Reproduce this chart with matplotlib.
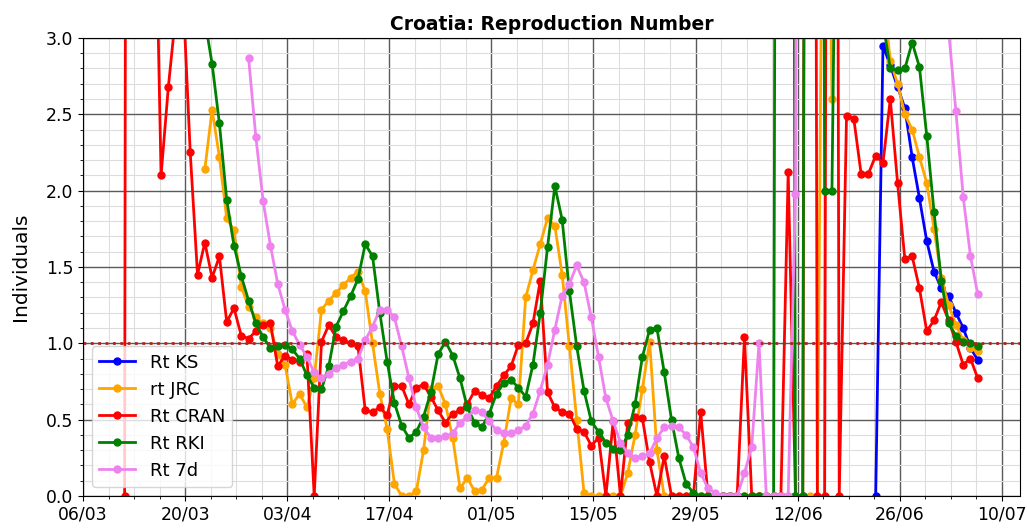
import numpy as np
import pandas as pd
import matplotlib
matplotlib.use("Agg")
import matplotlib.pyplot as plt
import matplotlib.dates as mdates
from matplotlib.ticker import MultipleLocator, FixedLocator

# Reproduction number estimates for Croatia, one value per day up to 2020-07-06
end_date = "2020-07-06"

ks_start = "2020-06-22"
rt_ks = [0.0, 2.95, 2.82, 2.68, 2.54, 2.22, 1.95, 1.67, 1.47, 1.36,
         1.31, 1.20, 1.10, 0.97, 0.89]

jrc_start = "2020-03-22"
rt_jrc = [2.14, 2.53, 2.22, 1.82, 1.74, 1.37, 1.24, 1.17, 1.13, 1.10,
          0.93, 0.86, 0.60, 0.67, 0.58, 0.77, 1.22, 1.28, 1.33, 1.38,
          1.43, 1.47, 1.34, 1.00, 0.67, 0.44, 0.08, 0.0, 0.0, 0.03,
          0.30, 0.70, 0.72, 0.60, 0.38, 0.05, 0.12, 0.03, 0.04, 0.12,
          0.12, 0.35, 0.64, 0.60, 1.30, 1.48, 1.65, 1.82, 1.77, 1.45,
          0.98, 0.50, 0.02, 0.0, 0.0, 0.0, 0.0, 0.0, 0.15, 0.40,
          0.70, 1.01, 0.30, 0.0, 0.0, 0.0, 0.0, 0.0, 0.0, 0.0,
          0.0, 0.0, 0.0, 0.0, 0.0, 0.0, 0.0, 0.0, 0.0, 0.0,
          0.0, 0.0, 0.0, 0.0, 0.0, 6.0, 2.6, 6.0, 5.0, 5.0,
          5.0, 4.0, 4.0, 3.3, 2.85, 2.70, 2.50, 2.40, 2.22, 2.05,
          1.75, 1.43, 1.25, 1.12, 1.02, 0.97, 0.95]

cran_start = "2020-03-11"
rt_cran = [0.0, 30.0, 10.0, 6.0, 4.5, 2.10, 2.68, 3.15, 3.3, 2.25,
           1.45, 1.66, 1.43, 1.57, 1.14, 1.23, 1.05, 1.03, 1.08, 1.12,
           1.13, 0.85, 0.92, 0.89, 0.88, 0.93, 0.0, 1.01, 1.12, 1.04,
           1.02, 1.00, 0.98, 0.56, 0.55, 0.58, 0.53, 0.72, 0.72, 0.60,
           0.71, 0.73, 0.65, 0.56, 0.48, 0.54, 0.56, 0.60, 0.69, 0.66,
           0.64, 0.72, 0.79, 0.85, 0.99, 1.00, 1.13, 1.41, 0.68, 0.58,
           0.55, 0.54, 0.44, 0.42, 0.33, 0.38, 0.0, 0.49, 0.0, 0.48,
           0.52, 0.51, 0.22, 0.0, 0.26, 0.0, 0.0, 0.0, 0.0, 0.55,
           0.0, 0.0, 0.0, 0.0, 0.0, 1.04, 0.0, 0.0, 0.0, 0.0,
           0.0, 2.12, 0.0, 0.0, 20.0, 0.0, 0.0, 20.0, 0.0, 2.49,
           2.47, 2.11, 2.11, 2.23, 2.18, 2.60, 2.05, 1.55, 1.57, 1.36,
           1.08, 1.15, 1.27, 1.15, 1.01, 0.86, 0.90, 0.77]

rki_start = "2020-03-22"
rt_rki = [3.12, 2.83, 2.44, 1.94, 1.64, 1.44, 1.28, 1.13, 1.04, 0.97,
          0.98, 0.99, 0.96, 0.90, 0.79, 0.71, 0.70, 0.85, 1.11, 1.21,
          1.31, 1.42, 1.65, 1.57, 1.20, 0.88, 0.61, 0.46, 0.38, 0.42,
          0.52, 0.68, 0.93, 1.01, 0.92, 0.77, 0.58, 0.48, 0.45, 0.54,
          0.67, 0.74, 0.76, 0.71, 0.65, 0.86, 1.20, 1.63, 2.03, 1.81,
          1.34, 0.98, 0.69, 0.49, 0.42, 0.35, 0.31, 0.30, 0.40, 0.60,
          0.91, 1.09, 1.10, 0.81, 0.50, 0.25, 0.08, 0.02, 0.0, 0.0,
          0.0, 0.0, 0.0, 0.0, 0.0, 0.0, 0.0, 0.0, 0.0, 20.0,
          20.0, 0.0, 0.0, 20.0, 20.0, 2.0, 2.0, 6.0, 8.0, 8.0,
          6.0, 5.0, 4.0, 3.1, 2.80, 2.79, 2.80, 2.97, 2.81, 2.36,
          1.86, 1.41, 1.13, 1.05, 1.01, 1.00, 0.98]

d7_start = "2020-03-28"
rt_7d = [2.87, 2.35, 1.93, 1.64, 1.39, 1.22, 1.08, 0.99, 0.91, 0.81,
         0.77, 0.80, 0.84, 0.86, 0.88, 0.90, 1.02, 1.11, 1.22, 1.22,
         1.17, 0.98, 0.77, 0.58, 0.45, 0.38, 0.38, 0.39, 0.41, 0.48,
         0.52, 0.56, 0.55, 0.49, 0.43, 0.41, 0.41, 0.43, 0.46, 0.54,
         0.69, 0.86, 1.09, 1.31, 1.39, 1.51, 1.40, 1.17, 0.91, 0.64,
         0.49, 0.35, 0.28, 0.25, 0.26, 0.28, 0.38, 0.45, 0.46, 0.45,
         0.40, 0.32, 0.15, 0.05, 0.02, 0.0, 0.0, 0.0, 0.15, 0.32,
         1.00, 0.0, 0.0, 0.0, 0.0, 1.98, 20.0, 14.0, 11.0, 9.5,
         8.0, 7.2, 6.8, 6.1, 5.9, 5.5, 5.2, 4.9, 4.6, 4.4,
         4.2, 4.0, 3.8, 3.7, 3.5, 3.3, 3.05, 2.52, 1.96, 1.57,
         1.32]

labels = ["Rt KS", "rt JRC", "Rt CRAN", "Rt RKI", "Rt 7d"]
starts = [ks_start, jrc_start, cran_start, rki_start, d7_start]
series = [rt_ks, rt_jrc, rt_cran, rt_rki, rt_7d]
colors = ["blue", "orange", "red", "green", "violet"]

# major ticks every two weeks, minor every 3.5 days
tick_dates = pd.date_range("2020-03-06", "2020-07-10", freq="14D")
minor_dates = pd.date_range("2020-03-06", "2020-07-12", freq="84h")

fig = plt.figure(figsize=(10.27, 5.30), dpi=100)
ax = fig.add_axes([0.0808, 0.0642, 0.9124, 0.8642])

for lab, st, vals, col in zip(labels, starts, series, colors):
    dates = pd.date_range(st, end_date, freq="D") + pd.Timedelta(hours=17)
    ax.plot(dates, vals, "-o", color=col, lw=2, ms=5, label=lab)

ax.axhline(1.0, color="#b22222", ls=":", lw=2)

ax.set_ylim(0, 3)
ax.set_xlim(pd.Timestamp("2020-03-06"), pd.Timestamp("2020-03-06") + pd.Timedelta(hours=3084))
ax.yaxis.set_major_locator(MultipleLocator(0.5))
ax.yaxis.set_minor_locator(MultipleLocator(0.1))
ax.xaxis.set_major_locator(FixedLocator(mdates.date2num(tick_dates)))
ax.xaxis.set_minor_locator(FixedLocator(mdates.date2num(minor_dates)))
ax.xaxis.set_major_formatter(mdates.DateFormatter("%d/%m"))
ax.tick_params(labelsize=12.4)

ax.grid(which="major", color="#5a5a5a", lw=1)
ax.grid(which="minor", color="#dddddd", lw=0.8)
ax.set_axisbelow(True)

ax.set_title("Croatia: Reproduction Number", fontsize=13.5, fontweight="bold")
ax.set_ylabel("Individuals", fontsize=14.5, labelpad=11)
ax.legend(loc="lower left", fontsize=13)

plt.savefig("out.png", dpi=100)
